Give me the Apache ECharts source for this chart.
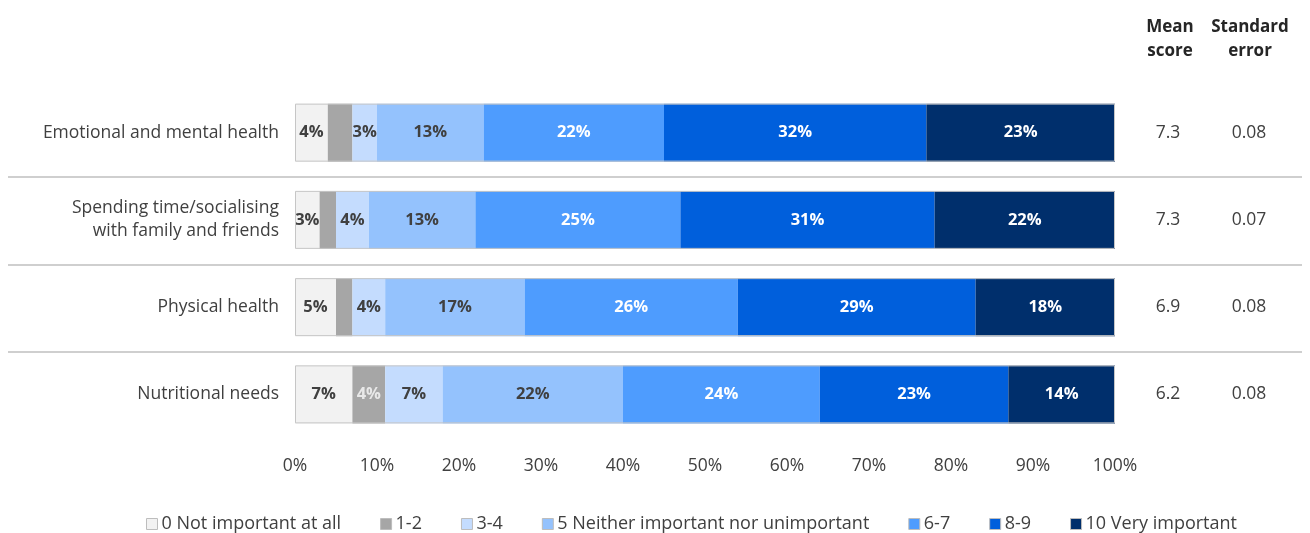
<!DOCTYPE html>
<html>
<head>
<meta charset="utf-8">
<script src="https://cdn.jsdelivr.net/npm/echarts@6/dist/echarts.min.js"></script>
<style>
  html, body { margin: 0; padding: 0; background: #fff; }
  #chart { width: 1310px; height: 533px; }
</style>
</head>
<body>
<div id="chart"></div>
<script>
// Importance ratings, percentage of respondents per response band
const categories = [
  'Emotional and mental health',
  'Spending time/socialising\nwith family and friends',
  'Physical health',
  'Nutritional needs'
];
const bandNames = [
  '0 Not important at all', '1-2', '3-4',
  '5 Neither important nor unimportant', '6-7', '8-9', '10 Very important'
];
const notImportant = [4, 3, 5, 7];
const band12 = [3, 2, 2, 4];
const band34 = [3, 4, 4, 7];
const neither = [13, 13, 17, 22];
const band67 = [22, 25, 26, 24];
const band89 = [32, 31, 29, 23];
const veryImportant = [23, 22, 18, 14];
const meanScores = ['7.3', '7.3', '6.9', '6.2'];
const standardErrors = ['0.08', '0.07', '0.08', '0.08'];
const xTicks = [0, 10, 20, 30, 40, 50, 60, 70, 80, 90, 100];

const bandValues = [notImportant, band12, band34, neither, band67, band89, veryImportant];
const bandColors = ['#f2f2f2', '#a6a6a6', '#c4dcfe', '#94c2fd', '#4e9cfe', '#005fdc', '#002f6c'];
const labelColors = ['#404040', '#e8e8e8', '#404040', '#404040', '#ffffff', '#ffffff', '#ffffff'];
const FONT = '"Open Sans", Lato, sans-serif';
const TEXT = '#404040';
const SIZE = 17.5;

const chart = echarts.init(document.getElementById('chart'));

const series = bandValues.map((vals, i) => ({
  name: bandNames[i],
  type: 'bar',
  stack: 'share',
  barWidth: 58,
  data: vals.map((v, r) => {
    // the 1-2 band is only labelled where the segment is wide enough
    const show = i !== 1 || r === 3;
    return { value: v, label: { show } };
  }),
  itemStyle: { color: bandColors[i] },
  label: {
    show: true,
    position: 'inside',
    formatter: '{c}%',
    color: labelColors[i],
    fontFamily: FONT,
    fontWeight: 'bold',
    fontSize: 16.5
  },
  emphasis: { disabled: true }
}));

// thin frame around each full bar
series.push({
  name: 'frame',
  type: 'bar',
  barWidth: 58,
  barGap: '-100%',
  z: 5,
  silent: true,
  data: categories.map(() => 100),
  itemStyle: { color: 'rgba(0,0,0,0)', borderColor: '#c6c6c6', borderWidth: 1 },
  label: { show: false },
  tooltip: { show: false }
});

const option = {
  animation: false,
  textStyle: { fontFamily: FONT },
  grid: { left: 295, right: 195, top: 89, bottom: 95, containLabel: false },
  legend: {
    data: bandNames.map((n, i) => ({
      name: n,
      itemStyle: { color: bandColors[i], borderColor: '#bdbdbd', borderWidth: 1 }
    })),
    top: 515,
    left: 146,
    padding: 0,
    icon: 'rect',
    itemWidth: 11,
    itemHeight: 11,
    itemGap: 39,
    textStyle: { fontFamily: FONT, fontSize: 18, color: TEXT, padding: [0, 0, 0, -1] },
    selectedMode: false
  },
  xAxis: {
    type: 'value',
    min: 0,
    max: 100,
    interval: 10,
    axisLine: { show: false },
    axisTick: { show: false },
    splitLine: { show: false },
    axisLabel: {
      formatter: v => (xTicks.includes(v) ? v + '%' : ''),
      fontFamily: FONT,
      fontSize: SIZE,
      color: TEXT,
      margin: 19
    }
  },
  yAxis: [
    {
      type: 'category',
      inverse: true,
      data: categories,
      axisLine: { show: false },
      axisTick: { show: false },
      axisLabel: {
        fontFamily: FONT, fontSize: SIZE, color: TEXT, margin: 16,
        align: 'right', lineHeight: 23
      }
    },
    {
      type: 'category',
      inverse: true,
      position: 'right',
      data: meanScores,
      axisLine: { show: false },
      axisTick: { show: false },
      axisLabel: { fontFamily: FONT, fontSize: SIZE, color: TEXT, align: 'center', margin: 53 }
    },
    {
      type: 'category',
      inverse: true,
      position: 'right',
      data: standardErrors,
      axisLine: { show: false },
      axisTick: { show: false },
      axisLabel: { fontFamily: FONT, fontSize: SIZE, color: TEXT, align: 'center', margin: 134 }
    }
  ],
  series
};

chart.setOption(option);

// Column headers and row separators placed from the axes' own scale
const rowY = categories.map((_, i) => chart.convertToPixel({ yAxisIndex: 0 }, i));
const bandStep = rowY[1] - rowY[0];
const meanX = 1115 + 55;
const seX = 1115 + 135;
const headerFont = 'bold 17px ' + FONT;
const graphics = [
  {
    type: 'text', x: meanX, y: 15,
    style: { text: 'Mean\nscore', fill: '#262626', font: headerFont, align: 'center', lineHeight: 24 }
  },
  {
    type: 'text', x: seX, y: 15,
    style: { text: 'Standard\nerror', fill: '#262626', font: headerFont, align: 'center', lineHeight: 24 }
  }
];
for (let i = 0; i < rowY.length - 1; i++) {
  const y = Math.round(rowY[i] + bandStep / 2) + 1;
  graphics.push({
    type: 'line',
    shape: { x1: 8, y1: y, x2: 1302, y2: y },
    style: { stroke: '#cfcfcf', lineWidth: 2 },
    silent: true
  });
}
chart.setOption({ graphic: graphics });
</script>
</body>
</html>
